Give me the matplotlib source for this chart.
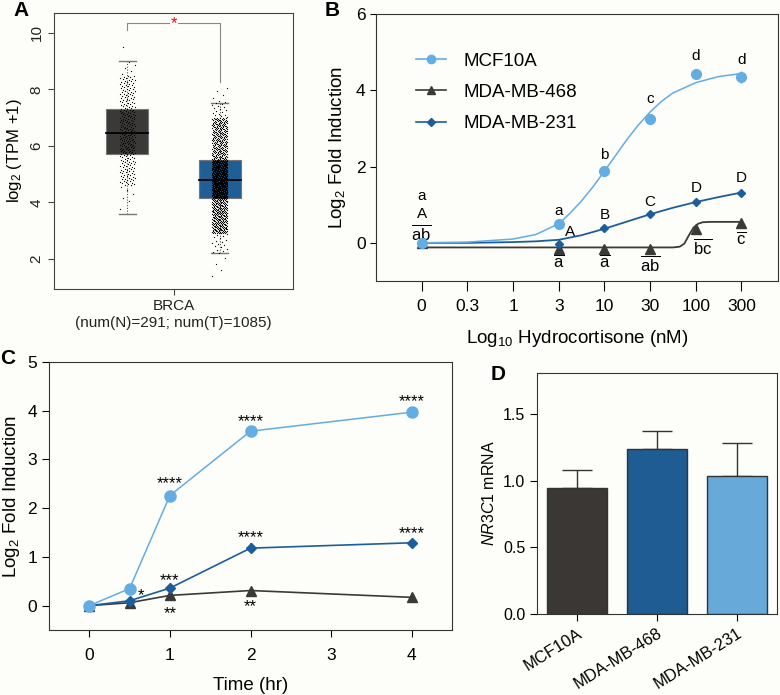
import matplotlib.pyplot as plt
import numpy as np

plt.rcParams['font.family'] = ['Liberation Sans', 'DejaVu Sans']
plt.rcParams['mathtext.fontset'] = 'custom'
plt.rcParams['mathtext.rm'] = 'Liberation Sans'
plt.rcParams['mathtext.it'] = 'Liberation Sans:italic'

BG = '#fdfdf9'
LIGHT = '#63ade2'
DARK = '#3b3a39'
BLUE = '#1c5d9b'

# ---- panel A: GEPIA style box plot (normal vs tumour)
a_counts = [291, 1085]
a_q1 = [5.72, 4.15]
a_median = [6.45, 4.78]
a_q3 = [7.32, 5.5]
a_whislo = [3.6, 2.2]
a_whishi = [9.02, 7.5]
a_box_colors = ['#3b3938', '#1f5f95']
# quantile anchors
a_cloud_p = [0, 0.004, 0.02, 0.25, 0.5, 0.75, 0.98, 0.996, 1]
a_cloud_N = [3.6, 4.0, 4.6, 5.72, 6.45, 7.32, 8.5, 9.0, 9.9]
a_cloud_T = [1.3, 2.2, 2.9, 4.15, 4.78, 5.5, 7.0, 7.6, 8.1]

# ---- panel B: dose response
b_dose_labels = ['0', '0.3', '1', '3', '10', '30', '100', '300']
b_pos = [0, 3, 4, 5, 6, 7]
b_mcf = [0.0, 0.5, 1.88, 3.25, 4.42, 4.35]
b_468 = [0.0, -0.16, -0.16, -0.16, 0.37, 0.52]
b_231 = [0.0, -0.02, 0.39, 0.76, 1.07, 1.31]
b_mcf_err = [0.03, 0.05, 0.06, 0.06, 0.06, 0.16]
b_468_err = [0.02, 0.05, 0.04, 0.05, 0.06, 0.06]
b_231_err = [0.02, 0.03, 0.03, 0.04, 0.04, 0.05]
# fitted curves
b_fit_mcf_x = [0, 1, 2, 2.5, 3, 3.25, 3.5, 3.75, 4, 4.25, 4.5, 4.75, 5, 5.25, 5.5, 6, 6.5, 7]
b_fit_mcf_y = [0.0, 0.02, 0.1, 0.22, 0.5, 0.78, 1.1, 1.47, 1.88, 2.3, 2.72, 3.1, 3.43, 3.71, 3.93, 4.2, 4.36, 4.44]
b_fit_231_x = [0, 1, 2, 2.5, 3, 3.5, 4, 4.5, 5, 5.5, 6, 6.5, 7]
b_fit_231_y = [0.0, 0.0, 0.02, 0.04, 0.08, 0.2, 0.37, 0.56, 0.75, 0.92, 1.07, 1.2, 1.32]
b_fit_468_x = [0, 5.5, 5.65, 5.75, 5.85, 5.95, 6.05, 6.15, 6.3, 7]
b_fit_468_y = [-0.12, -0.12, -0.1, -0.02, 0.2, 0.4, 0.5, 0.54, 0.55, 0.55]
# significance letters
b_mcf_lab = ['a', 'a', 'b', 'c', 'd', 'd']
b_mcf_lab_y = [1.23, 0.84, 2.3, 3.77, 4.9, 4.8]
b_231_lab = ['A', 'A', 'B', 'C', 'D', 'D']
b_231_lab_x = [0, 3.25, 4, 5, 6, 7]
b_231_lab_y = [0.76, 0.29, 0.73, 1.07, 1.44, 1.7]
b_468_lab = ['ab', 'a', 'a', 'ab', 'bc', 'c']
b_468_lab_x = [0, 3, 4, 5, 6.15, 7]
b_468_lab_y = [0.26, -0.5, -0.5, -0.56, -0.12, 0.1]

# ---- panel C: time course
c_time = [0, 0.5, 1, 2, 4]
c_mcf = [0.0, 0.35, 2.26, 3.58, 3.97]
c_231 = [0.0, 0.1, 0.36, 1.18, 1.29]
c_468 = [0.0, 0.06, 0.21, 0.31, 0.17]
c_mcf_err = [0.02, 0.1, 0.04, 0.05, 0.04]
c_231_err = [0.02, 0.03, 0.04, 0.1, 0.03]
c_468_err = [0.02, 0.04, 0.03, 0.03, 0.08]
c_stars = ['****', '****', '****', '*', '***', '****', '****', '**', '**']
c_stars_x = [1, 2, 4, 0.64, 1, 2, 4, 1, 2]
c_stars_y = [2.5, 3.77, 4.18, 0.21, 0.52, 1.4, 1.48, -0.16, -0.02]

# ---- panel D: NR3C1 expression
d_cells = ['MCF10A', 'MDA-MB-468', 'MDA-MB-231']
d_vals = [0.95, 1.24, 1.035]
d_err = [0.13, 0.135, 0.25]
d_colors = ['#3a3735', '#1f5c94', '#67aada']


fig = plt.figure(figsize=(7.8, 6.95), dpi=100, facecolor=BG)


def px_axes(left, top, right, bottom):
    W, H = 780, 695
    return fig.add_axes([left / W, (H - bottom) / H, (right - left) / W, (bottom - top) / H])


# ================= A
axA = px_axes(54, 13, 293, 289)
axA.set_facecolor(BG)
centres = [0.307, 0.693]
clouds = [a_cloud_N, a_cloud_T]
for i, c in enumerate(centres):
    n = a_counts[i]
    p = (np.arange(n) + 0.5) / n
    vals = np.interp(p, a_cloud_p, clouds[i])
    frac = (np.arange(n) * 0.6180339887) % 1
    xs = c + (frac - 0.5) * 0.065
    # whiskers
    axA.plot([c, c], [a_q3[i], a_whishi[i]], ls=(0, (1, 1.5)), color='#555555', lw=0.8, zorder=1)
    axA.plot([c, c], [a_whislo[i], a_q1[i]], ls=(0, (1, 1.5)), color='#555555', lw=0.8, zorder=1)
    for w in (a_whislo[i], a_whishi[i]):
        axA.plot([c - 0.035, c + 0.035], [w, w], color='#777777', lw=1, zorder=1)
    axA.add_patch(plt.Rectangle((c - 0.088, a_q1[i]), 0.176, a_q3[i] - a_q1[i],
                                facecolor=a_box_colors[i], edgecolor='#777777', lw=0.8, zorder=2))
    axA.plot([c - 0.088, c + 0.088], [a_median[i]] * 2, color='black', lw=1.3, zorder=4)
    axA.scatter(xs, vals, s=0.8, color='black', lw=0, zorder=3)

# significance bracket
axA.plot([centres[0], centres[0], 0.48], [10.1, 10.35, 10.35], color='#888888', lw=0.8)
axA.plot([0.52, centres[1], centres[1]], [10.35, 10.35, 8.27], color='#888888', lw=0.8)
axA.text(0.5, 10.33, '*', color='red', ha='center', va='center', fontsize=12)

axA.set_xlim(0, 1)
axA.set_ylim(0.94, 10.7)
axA.set_yticks([2, 4, 6, 8, 10])
axA.set_yticklabels(['2', '4', '6', '8', '10'], rotation=90, va='center', fontsize=11)
axA.set_xticks([0.5])
axA.set_xticklabels(['BRCA\n(num(N)=291; num(T)=1085)'], fontsize=11, linespacing=1.2)
axA.set_ylabel('log$_2$ (TPM +1)', fontsize=12)
for s in axA.spines.values():
    s.set_color('#444444')
axA.tick_params(colors='#444444', labelcolor='#222222', length=4)

# ================= B
axB = px_axes(376, 14, 778, 281)
axB.set_facecolor(BG)
axB.plot(b_fit_468_x, b_fit_468_y, color=DARK, lw=1.3, zorder=2)
axB.plot(b_fit_231_x, b_fit_231_y, color=BLUE, lw=1.3, zorder=3)
axB.plot(b_fit_mcf_x, b_fit_mcf_y, color=LIGHT, lw=1.1, zorder=4)
axB.errorbar(b_pos, b_468, yerr=b_468_err, fmt='^', color=DARK, ms=6.5, elinewidth=1, zorder=5)
axB.errorbar(b_pos, b_231, yerr=b_231_err, fmt='D', color=BLUE, ms=4.5, elinewidth=1, zorder=6)
axB.errorbar(b_pos, b_mcf, yerr=b_mcf_err, fmt='o', color=LIGHT, ms=7, elinewidth=1, zorder=7)
axB.plot([], [], '-o', color=LIGHT, ms=6, lw=1.2, label='MCF10A')
axB.plot([], [], '-^', color=DARK, ms=6, lw=1.2, label='MDA-MB-468')
axB.plot([], [], '-D', color=BLUE, ms=4.5, lw=1.2, label='MDA-MB-231')
axB.legend(loc='upper left', bbox_to_anchor=(0.082, 0.883), frameon=False, fontsize=13.5,
           handlelength=1.6, handletextpad=0.9, labelspacing=0.75, borderaxespad=0)

for i, x in enumerate(b_pos):
    axB.text(x, b_mcf_lab_y[i], b_mcf_lab[i], ha='center', va='center', fontsize=11)
    axB.text(b_231_lab_x[i], b_231_lab_y[i], b_231_lab[i], ha='center', va='center', fontsize=11)
    axB.text(b_468_lab_x[i], b_468_lab_y[i], r'$\overline{\mathrm{%s}}$' % b_468_lab[i],
             ha='center', va='center', fontsize=12)

axB.set_xlim(-1, 7.8)
axB.set_ylim(-1, 6)
axB.set_xticks(range(len(b_dose_labels)))
axB.set_xticklabels(b_dose_labels, fontsize=12.5)
axB.set_yticks([0, 2, 4, 6])
axB.tick_params(axis='y', labelsize=12.5, length=4)
axB.tick_params(axis='x', length=7, pad=6)
axB.set_xlabel('Log$_{10}$ Hydrocortisone (nM)', fontsize=13.5, labelpad=10)
axB.set_ylabel('Log$_2$ Fold Induction', fontsize=13.5, labelpad=6)
for s in axB.spines.values():
    s.set_color('#333333')

# ================= C
axC = px_axes(49, 362, 452, 630)
axC.set_facecolor(BG)
axC.errorbar(c_time, c_468, yerr=c_468_err, fmt='-^', color=DARK, ms=7, lw=1.2, zorder=3)
axC.errorbar(c_time, c_231, yerr=c_231_err, fmt='-D', color=BLUE, ms=5, lw=1.2, zorder=4)
axC.errorbar(c_time, c_mcf, yerr=c_mcf_err, fmt='-o', color=LIGHT, ms=8, lw=1.1, zorder=5)
for t, y, s in zip(c_stars_x, c_stars_y, c_stars):
    axC.text(t, y, s, ha='center', va='center', fontsize=12)
axC.set_xlim(-0.5, 4.5)
axC.set_ylim(-0.5, 5)
axC.set_xticks([0, 1, 2, 3, 4])
axC.set_yticks([0, 1, 2, 3, 4, 5])
axC.tick_params(labelsize=12.5, length=5)
axC.tick_params(axis='x', pad=8)
axC.set_xlabel('Time (hr)', fontsize=13.5, labelpad=10)
axC.set_ylabel('Log$_2$ Fold Induction', fontsize=13.5)
for s in axC.spines.values():
    s.set_color('#333333')

# ================= D
axD = px_axes(537, 373, 777, 614)
axD.set_facecolor(BG)
xpos = np.arange(len(d_cells))
axD.bar(xpos, d_vals, width=0.76, color=d_colors, edgecolor='#333333', lw=1, zorder=2)
axD.errorbar(xpos, d_vals, yerr=[[0] * 3, d_err], fmt='none', ecolor='#333333',
             elinewidth=1, capsize=11, capthick=1, zorder=1)
axD.set_xlim(-0.5, 2.5)
axD.set_ylim(0, 1.81)
axD.set_yticks([0, 0.5, 1.0, 1.5])
axD.set_yticklabels(['0.0', '0.5', '1.0', '1.5'])
axD.set_xticks(xpos)
axD.set_xticklabels(d_cells, rotation=32, ha='right', rotation_mode='anchor', fontsize=12)
axD.tick_params(axis='y', labelsize=11.5, length=5)
axD.tick_params(axis='x', length=5)
axD.set_ylabel('$\\it{NR3C1}$ mRNA', fontsize=11.5)
for s in axD.spines.values():
    s.set_color('#333333')

# panel letters
for lab, x, y in [('A', 21, 10), ('B', 332, 10), ('C', 8, 358), ('D', 498, 375)]:
    fig.text(x / 780, 1 - y / 695, lab, fontsize=15, fontweight='bold', ha='center', va='center')

fig.savefig('out.png', dpi=100, facecolor=BG)
